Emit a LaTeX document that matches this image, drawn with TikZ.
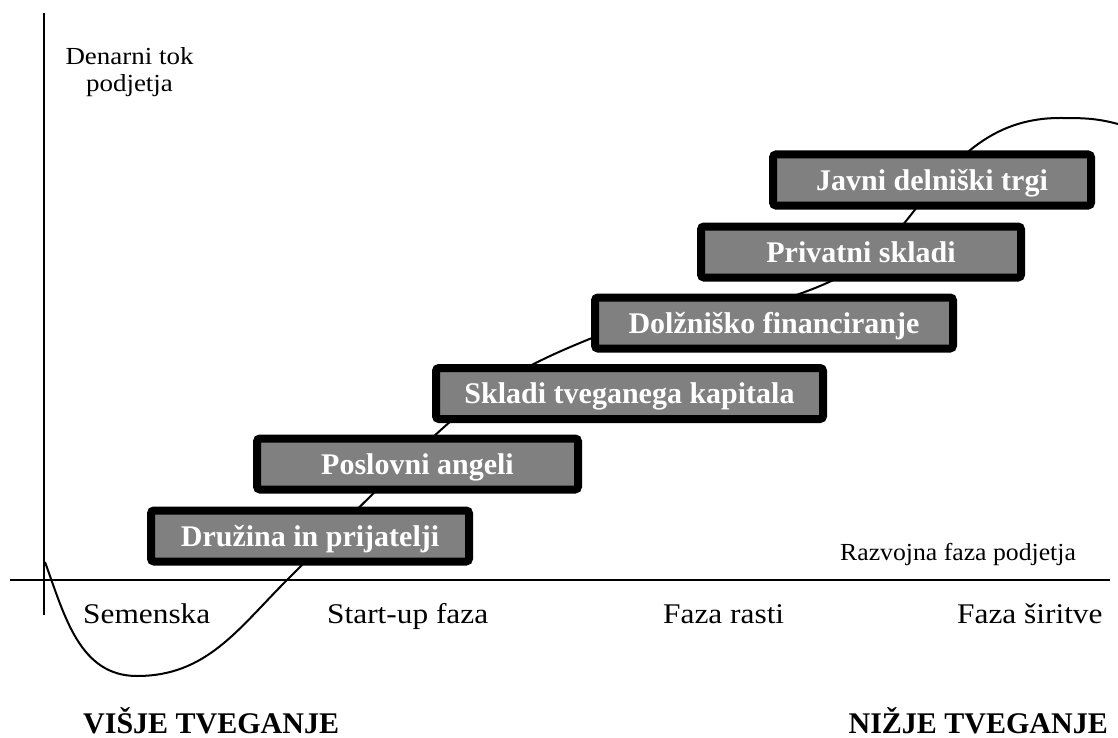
\documentclass[tikz,border=0pt]{standalone}
\usepackage{fontspec}
\setmainfont{Liberation Serif}
\newfontfamily\widefont{Liberation Serif}[FakeStretch=1.1]
\definecolor{boxgray}{HTML}{808080}
\begin{document}
\begin{tikzpicture}[x=1pt,y=-1pt,
  stepbox/.style={draw=black, line width=8pt, fill=boxgray, rounded corners=3pt,
    inner sep=0pt, minimum height=51pt, text=white,
    font=\fontsize{30}{32}\selectfont\bfseries, text height=20pt, text depth=0pt},
  axisline/.style={line width=2pt},
  curveline/.style={line width=2pt},
  phase/.style={anchor=base west, inner sep=0pt, font=\widefont\fontsize{28.5}{30}\selectfont},
  small/.style={anchor=base, inner sep=0pt, font=\widefont\fontsize{24.5}{26}\selectfont},
  risk/.style={inner sep=0pt, font=\fontsize{30}{32}\selectfont\bfseries}
]
\useasboundingbox (0,0) rectangle (1118,738);

% axes
\coordinate (ytop) at (44,13);
\coordinate (ybot) at (44,615);
\coordinate (xl) at (10,580);
\coordinate (xr) at (1110,580);
\draw[axisline] (ytop) -- (ybot);
\draw[axisline] (xl) -- (xr);

% curve points
\coordinate (c0) at (45,562);
\coordinate (c1) at (137,676);
\coordinate (c2) at (287,580);
\coordinate (c3) at (443,428);
\coordinate (c4) at (592,338);
\coordinate (c5) at (802,293);
\coordinate (c6) at (910,216);
\coordinate (c7) at (1060,118);
\coordinate (c8) at (1118,124);
\draw[curveline] (c0) to[out=-70,in=180] (c1)
  to[out=0,in=225] (c2)
  to[out=45,in=222] (c3)
  to[out=42,in=202] (c4)
  to[out=22,in=200] (c5)
  to[out=20,in=232] (c6)
  to[out=52,in=180] (c7)
  to[out=0,in=165] (c8);

% boxes
\node[stepbox, minimum width=318pt] (b1) at (310,536) {Družina in prijatelji};
\node[stepbox, minimum width=321pt] (b2) at (417.5,464) {Poslovni angeli};
\node[stepbox, minimum width=387pt] (b3) at (629.5,393.5) {Skladi tveganega kapitala};
\node[stepbox, minimum width=358pt] (b4) at (774,323) {Dolžniško financiranje};
\node[stepbox, minimum width=320pt] (b5) at (861,252) {Privatni skladi};
\node[stepbox, minimum width=318pt] (b6) at (932,180) {Javni delniški trgi};

% axis labels
\node[small] (yl1) at (129.5,65) {Denarni tok};
\node[small] (yl2) at (129.5,92) {podjetja};
\node[small, anchor=base west, font=\fontsize{24.5}{26}\selectfont\addfontfeature{FakeStretch=1.05}] (xlab) at (840,560) {Razvojna faza podjetja};

% phases
\node[phase] (p1) at (83,623) {Semenska};
\node[phase] (p2) at (327,623) {Start-up faza};
\node[phase] (p3) at (663,623) {Faza rasti};
\node[phase] (p4) at (957,623) {Faza širitve};

% risk
\node[risk, anchor=base west] (r1) at (83,733) {VIŠJE TVEGANJE};
\node[risk, anchor=base east] (r2) at (1108,733) {NIŽJE TVEGANJE};
\end{tikzpicture}
\end{document}
